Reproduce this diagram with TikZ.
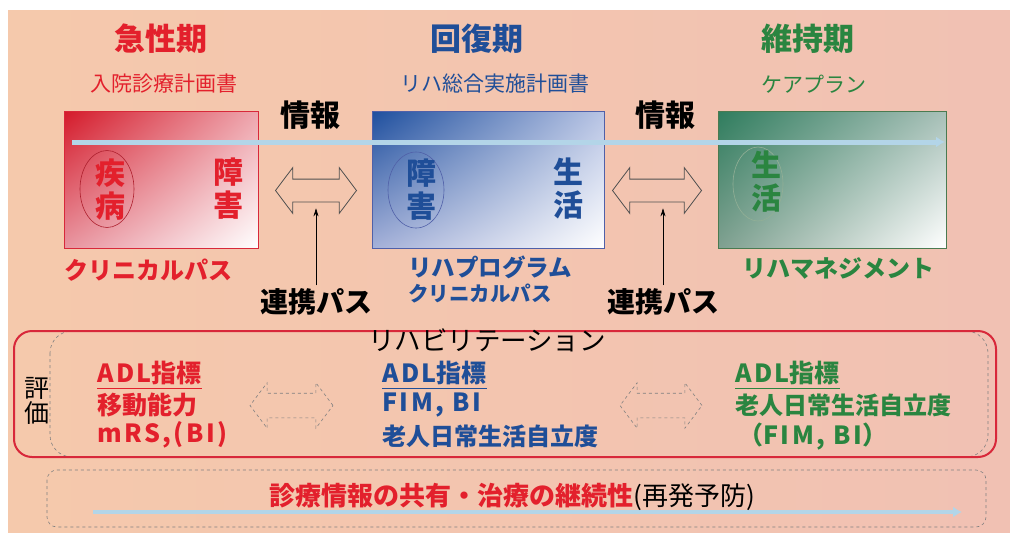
\documentclass[tikz,border=0pt]{standalone}
\usepackage{fontspec}
\setmainfont{Noto Sans CJK JP}
\usetikzlibrary{shapes.arrows,shapes.geometric,arrows.meta,shadings}
\definecolor{bgL}{HTML}{F5C9AC}
\definecolor{bgR}{HTML}{F1C1B3}
\definecolor{redT}{HTML}{E3202C}
\definecolor{blueT}{HTML}{1F4E98}
\definecolor{greenT}{HTML}{2A8540}
\definecolor{lineB}{HTML}{B3D5E8}
\definecolor{arrG}{HTML}{505050}
\definecolor{r1}{HTML}{D41A2A}
\definecolor{r2}{HTML}{EEA6AE}
\definecolor{r3}{HTML}{E8949F}
\definecolor{b1}{HTML}{1E4F9E}
\definecolor{b2}{HTML}{B8C4E4}
\definecolor{b3}{HTML}{A4B0D8}
\definecolor{g1}{HTML}{2F7D5E}
\definecolor{g2}{HTML}{A8C0B8}
\definecolor{g3}{HTML}{7FA090}
\definecolor{redB}{HTML}{D8283A}
\definecolor{blueB}{HTML}{5060A8}
\definecolor{greenB}{HTML}{4A7A50}
\newcommand{\fsz}[1]{\fontsize{#1}{#1}\selectfont}
\newcommand{\lsp}[1]{{\addfontfeatures{LetterSpace=10}#1}}
\begin{document}
\begin{tikzpicture}[x=1pt,y=-1pt,
  txt/.style={inner sep=0pt, align=center},
  ttl/.style={txt, font=\bfseries\fsz{31}},
  subt/.style={txt, font=\fsz{21}},
  big/.style={txt, font=\bfseries\fontsize{30}{33}\selectfont},
  lbl/.style={txt, font=\bfseries\fsz{24}},
  blk/.style={txt, font=\bfseries\fsz{30}, text=black},
  col/.style={inner sep=0pt, anchor=west, font=\bfseries\fsz{25}},
  phasebox/.style={draw, line width=0.8pt, minimum width=#1, minimum height=137pt, inner sep=0pt},
  oval/.style={ellipse, draw, line width=0.6pt, inner sep=0pt},
  harrow/.style={double arrow, draw=arrG, line width=0.8pt, inner xsep=0pt, inner ysep=11pt,
     double arrow head extend=11.5pt, double arrow tip angle=106, minimum height=#1},
  darrow/.style={harrow=#1, dashed, draw=gray, line width=0.6pt, inner ysep=12pt, double arrow head extend=10.5pt},
  flow/.style={draw=lineB, line width=5pt, -{Latex[length=9pt,width=11pt]}},
]
\useasboundingbox (0,0) rectangle (1010,533);
\fill[white] (0,0) rectangle (1010,533);
\shade[left color=bgL, right color=bgR] (8,10) rectangle (1010,533);

% titles
\node[ttl, text=redT] (t1) at (161,39) {急性期};
\node[ttl, text=blueT] (t2) at (477,39) {回復期};
\node[ttl, text=greenT] (t3) at (808,39) {維持期};
\node[subt, text=redT] (s1) at (164,84) {入院診療計画書};
\node[subt, text=blueT] (s2) at (495,84) {リハ総合実施計画書};
\node[subt, text=greenT] (s3) at (814,84) {ケアプラン};

% boxes
\node[phasebox=194pt, draw=redB, upper left=r1, upper right=r2, lower left=r3, lower right=white] (box1) at (161,179.5) {};
\node[phasebox=232pt, draw=blueB, upper left=b1, upper right=b2, lower left=b3, lower right=white] (box2) at (488,179.5) {};
\node[phasebox=228pt, draw=greenB, upper left=g1, upper right=g2, lower left=g3, lower right=white] (box3) at (832,179.5) {};

\node[oval, draw=redB!80!black, minimum width=54pt, minimum height=77pt] (e1) at (107,189) {};
\node[oval, draw=blueB, minimum width=56pt, minimum height=76pt] (e2) at (416,190) {};
\node[oval, draw=greenB!60, minimum width=50pt, minimum height=74pt] (e3) at (758,184) {};

\node[big, text=redT] (k1) at (110,190) {疾\\病};
\node[big, text=redT] (k2) at (228,189) {障\\害};
\node[big, text=blueT] (k3) at (421,190) {障\\害};
\node[big, text=blueT] (k4) at (568,189) {生\\活};
\node[big, text=greenT] (k5) at (766,182) {生\\活};

% info flow
\coordinate (fs) at (72,142);
\coordinate (fe) at (945,142);
\draw[flow] (fs) -- (fe);

\node[blk] (i1) at (310,115) {情報};
\node[blk] (i2) at (665,115) {情報};

\node[harrow=81pt] (da1) at (316,190.5) {};
\node[harrow=89pt] (da2) at (657,190.5) {};

\node[lbl, text=redT] (c1) at (148,270) {クリニカルパス};
\node[lbl, text=blueT, font=\bfseries\fsz{23.5}] (c2) at (490,267) {リハプログラム};
\node[lbl, text=blueT, font=\bfseries\fsz{20.5}] (c3) at (480,294) {クリニカルパス};
\node[lbl, text=greenT] (c4) at (838,268) {リハマネジメント};

\node[blk, font=\bfseries\fsz{28}] (rk1) at (316,302) {連携パス};
\node[blk, font=\bfseries\fsz{28}] (rk2) at (663,302) {連携パス};
\draw[-{Stealth[length=8pt,width=5pt]}, line width=0.6pt, shorten >=6pt, shorten <=3pt] (rk1.north) -- (da1.south);
\draw[-{Stealth[length=8pt,width=5pt]}, line width=0.6pt, shorten >=6pt, shorten <=3pt] (rk2.north) -- (rk2.north |- da2.south);

% rehabilitation frame
\draw[gray, dashed, line width=0.6pt, rounded corners=22pt] (50,331) rectangle (988,457);
\draw[redB, line width=2pt, rounded corners=18pt] (14,331) rectangle (996,457);
\node[txt, font=\fsz{26.5}] (reh) at (487,340) {リハビリテーション};
\node[txt, font=\fsz{25}, text=black] (hyo) at (37,401) {評\\価};

\node[col, text=redT] (a1) at (97,373) {\lsp{ADL}指標};
\node[col, text=redT] (a2) at (97,405) {移動能力};
\node[col, text=redT] (a3) at (97,435) {\lsp{mRS,(BI)}};
\draw[redT, line width=1.2pt] ([yshift=-3pt]a1.south west) -- ([yshift=-3pt]a1.south east);

\node[col, text=blueT] (b1n) at (382,373) {\lsp{ADL}指標};
\node[col, text=blueT] (b2n) at (382,405) {\lsp{FIM, BI}};
\node[col, text=blueT, font=\bfseries\fsz{24}] (b3n) at (382,436) {老人日常生活自立度};
\draw[blueT, line width=1.2pt] ([yshift=-3pt]b1n.south west) -- ([yshift=-3pt]b1n.south east);

\node[col, text=greenT] (g1n) at (735,373) {\lsp{ADL}指標};
\node[col, text=greenT, font=\bfseries\fsz{24}] (g2n) at (735,405) {老人日常生活自立度};
\node[col, text=greenT] (g3n) at (738,437) {（\lsp{FIM, BI}）};
\draw[greenT, line width=1.2pt] ([yshift=-3pt]g1n.south west) -- ([yshift=-3pt]g1n.south east);

\node[darrow=83pt] (dd1) at (291.5,405.5) {};
\node[darrow=82pt] (dd2) at (661,405.5) {};

% continuity
\draw[gray, dashed, line width=0.6pt, rounded corners=10pt] (47,470) rectangle (986,527);
\coordinate (bs) at (93,512);
\coordinate (be) at (962,512);
\draw[flow, line width=4pt] (bs) -- (be);
\node[txt, font=\fsz{26}] (cont) at (512,497) {\textcolor{redT}{\bfseries 診療情報の共有・治療の継続性}(再発予防)};
\end{tikzpicture}
\end{document}
